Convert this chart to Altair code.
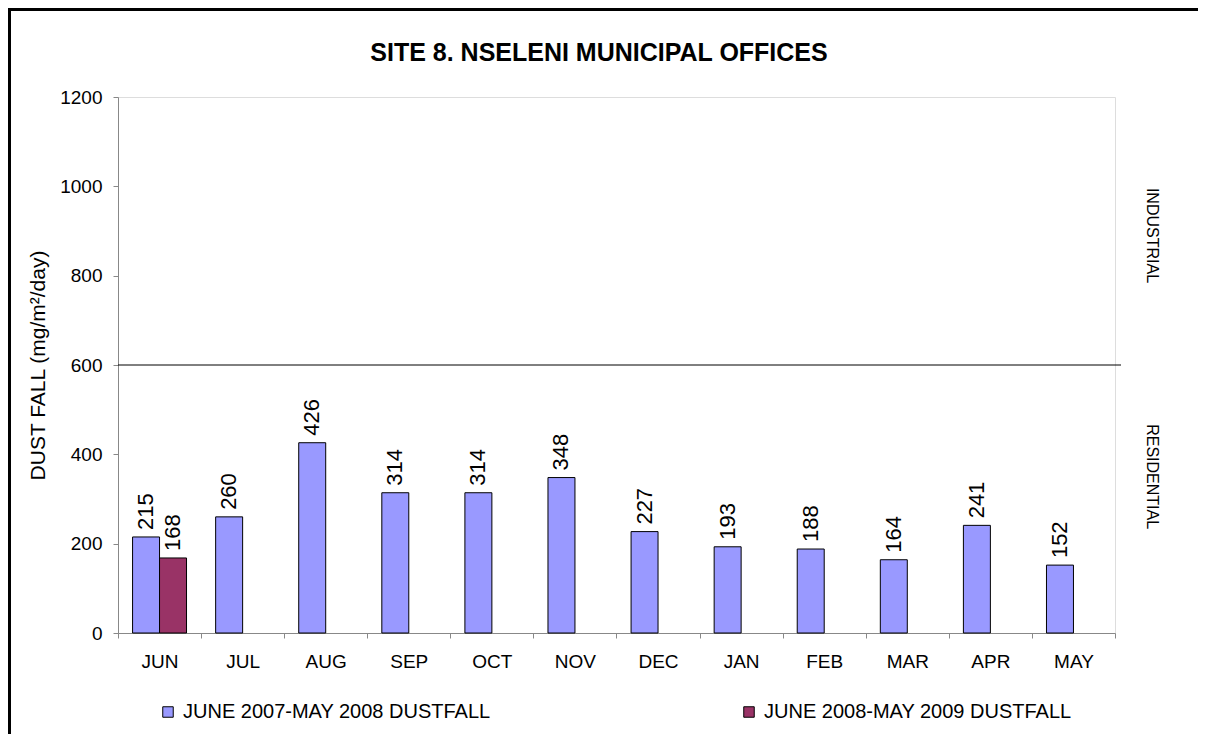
import altair as alt
import pandas as pd

# ---- data ----
months = ["JUN", "JUL", "AUG", "SEP", "OCT", "NOV", "DEC", "JAN", "FEB", "MAR", "APR", "MAY"]
dust_2007_2008 = [215, 260, 426, 314, 314, 348, 227, 193, 188, 164, 241, 152]
dust_2008_2009 = [168]  # only June measured so far
series_names = ["JUNE 2007-MAY 2008 DUSTFALL", "JUNE 2008-MAY 2009 DUSTFALL"]
series_colors = ["#9999FF", "#993366"]
y_ticks = [0, 200, 400, 600, 800, 1000, 1200]
threshold = [600]
zone_labels = ["INDUSTRIAL", "RESIDENTIAL"]
zone_label_y = [890, 350]
chart_title = ["SITE 8. NSELENI MUNICIPAL OFFICES"]

FONT = "Liberation Sans"

rows = []
for m, v in zip(months, dust_2007_2008):
    rows.append({"month": m, "series": series_names[0], "value": v})
for m, v in zip(months, dust_2008_2009):
    rows.append({"month": m, "series": series_names[1], "value": v})
df = pd.DataFrame(rows)

x_enc = alt.X(
    "month:N",
    sort=months,
    scale=alt.Scale(domain=months, paddingInner=0, paddingOuter=0),
    axis=alt.Axis(
        title=None, labelAngle=0, tickBand="extent", tickSize=5,
        labelPadding=14, labelFontSize=19,
    ),
)
xoff_enc = alt.XOffset(
    "series:N",
    sort=series_names,
    scale=alt.Scale(domain=series_names, paddingInner=0, paddingOuter=0.54),
)
y_enc = alt.Y(
    "value:Q",
    scale=alt.Scale(domain=[0, 1200], nice=False),
    axis=alt.Axis(
        values=y_ticks, format="d", grid=False, tickSize=5, labelPadding=11,
        labelFontSize=19,
        title="DUST FALL  (mg/m²/day)", titleFontSize=21, titleFontWeight="normal",
        titlePadding=11,
    ),
)

base = alt.Chart(df)

bars = base.mark_bar(stroke="black", strokeWidth=1).encode(
    x=x_enc,
    xOffset=xoff_enc,
    y=y_enc,
    color=alt.Color(
        "series:N",
        scale=alt.Scale(domain=series_names, range=series_colors),
        legend=alt.Legend(
            title=None, orient="none", direction="horizontal",
            legendX=40, legendY=605,
            symbolType="square", symbolSize=110, symbolStrokeColor="black",
            symbolStrokeWidth=1, labelFontSize=20, labelOffset=5, labelLimit=0,
            columnPadding=248, labelFont=FONT, labelColor="black",
        ),
    ),
)

labels = base.mark_text(
    angle=270, align="left", baseline="middle", dx=7, fontSize=22, font=FONT, color="black"
).encode(
    x=x_enc,
    xOffset=xoff_enc,
    y="value:Q",
    text="value:Q",
)

thr = alt.Chart(pd.DataFrame({"y": threshold})).mark_rule(color="black", strokeWidth=1).encode(
    y="y:Q", x=alt.value(0), x2=alt.value(1003)
)

zones = alt.Chart(pd.DataFrame({"label": zone_labels, "y": zone_label_y})).mark_text(
    angle=90, fontSize=16, font=FONT, color="black", align="center", baseline="middle"
).encode(y="y:Q", text="label:N", x=alt.value(1034))

title_mark = alt.Chart(pd.DataFrame({"t": chart_title})).mark_text(
    fontSize=25, fontWeight="bold", font=FONT, color="black", align="center", baseline="middle"
).encode(text="t:N", x=alt.value(481), y=alt.value(-44))

frame_left = alt.Chart(pd.DataFrame({"a": [0]})).mark_rule(color="black", strokeWidth=3).encode(
    x=alt.value(-108.5), y=alt.value(-89), y2=alt.value(637)
)
frame_top = alt.Chart(pd.DataFrame({"a": [0]})).mark_rule(color="black", strokeWidth=3).encode(
    y=alt.value(-87.5), x=alt.value(-110), x2=alt.value(1080)
)

chart = (
    alt.layer(bars, labels, thr, zones, title_mark, frame_left, frame_top)
    .properties(
        width=997,
        height=536,
        autosize="none",
        padding={"left": 110, "top": 89, "right": 83, "bottom": 101},
    )
    .configure_view(stroke="black", strokeWidth=1)
    .configure_axis(
        domainColor="black", tickColor="black", labelColor="black", titleColor="black",
        labelFont=FONT, titleFont=FONT,
    )
    .configure(background="white")
)

chart.save("out.html", embed_options={"renderer": "svg", "actions": False})
